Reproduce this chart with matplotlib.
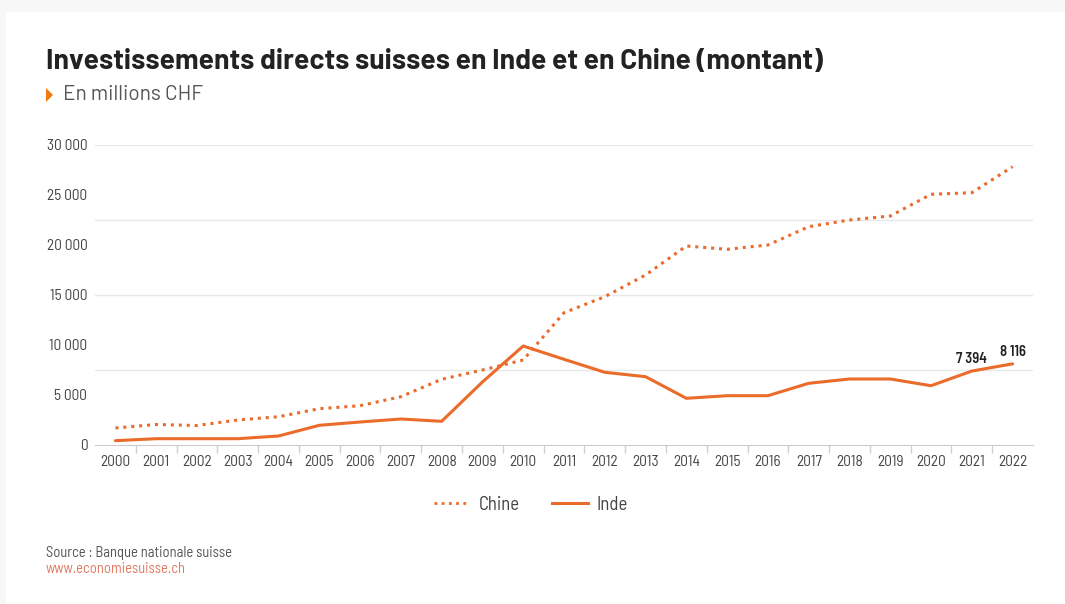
import matplotlib
matplotlib.use("Agg")
import matplotlib.pyplot as plt
from matplotlib.lines import Line2D
from matplotlib.patches import Polygon, Rectangle
from matplotlib.ticker import FixedLocator, FuncFormatter

years = [str(y) for y in range(2000, 2023)]
chine = [1700, 2050, 1950, 2500, 2830, 3630, 3930, 4830, 6570, 7500, 8500,
         13230, 14830, 17000, 19900, 19570, 20000, 21830, 22500, 22900, 25070, 25230, 27830]
inde = [430, 630, 630, 630, 900, 1970, 2300, 2600, 2370, 6300, 9900,
        8570, 7270, 6830, 4670, 4930, 4930, 6170, 6600, 6600, 5930, 7394, 8116]
y_ticks = [0, 5000, 10000, 15000, 20000, 25000, 30000]
grid_vals = [0, 7500, 15000, 22500, 30000]
labels_pts = {21: "7 394", 22: "8 116"}

FONT = "Barlow Semi Condensed"
WIDE = "Barlow"
plt.rcParams['font.family'] = [FONT, 'DejaVu Sans']

ORANGE = '#EA6B2A'
GREY = '#555555'

W, H = 1065, 604
fig = plt.figure(figsize=(W / 100, H / 100), dpi=100)
fig.patch.set_facecolor('#f7f7f7')
fig.add_artist(Rectangle((6 / W, 0), 1 - 6 / W, 1 - 12 / H, transform=fig.transFigure,
                         facecolor='white', edgecolor='none', zorder=0))

ax = fig.add_axes([95 / W, 1 - 445 / H, (1033 - 95) / W, 300 / H])
ax.set_facecolor('none')
x = list(range(len(years)))
ax.plot(x, chine, color=ORANGE, lw=2.2, linestyle=(0, (1, 1.6)), label='Chine', zorder=3)
ax.plot(x, inde, color=ORANGE, lw=2.2, solid_capstyle='round', label='Inde', zorder=3)

ax.set_xlim(-0.5, len(years) - 0.5)
ax.set_ylim(0, 30000)
ax.set_yticks(y_ticks)
ax.yaxis.set_major_formatter(FuncFormatter(lambda v, p: f"{int(v):,}".replace(",", " ")))
ax.set_xticks(x)
ax.set_xticklabels(years)
ax.xaxis.set_minor_locator(FixedLocator([i + 0.5 for i in x[:-1]]))
ax.tick_params(axis='x', which='major', length=0, pad=7, labelsize=11, labelcolor='#444444')
ax.tick_params(axis='x', which='minor', length=6, color='#d0d0d0', width=1)
ax.tick_params(axis='y', length=0, pad=5.5, labelsize=11, labelcolor='#444444')
for s in ['top', 'right', 'left']:
    ax.spines[s].set_visible(False)
ax.spines['bottom'].set_color('#cccccc')
for g in grid_vals[1:]:
    ax.axhline(g, color='#e8e8e8', lw=1, zorder=1)

for i, t in labels_pts.items():
    ax.annotate(t, (i, inde[i]), xytext=(0, 3.5), textcoords='offset points',
                ha='center', va='bottom', fontsize=10.5, fontweight='semibold', color='#222222')

leg = fig.legend(handles=[Line2D([], [], color=ORANGE, lw=2.0, linestyle=(0, (1, 1.6))),
                          Line2D([], [], color=ORANGE, lw=2.2)],
                 labels=['Chine', 'Inde'], loc='center', bbox_to_anchor=(531 / W, 1 - 505 / H),
                 ncol=2, frameon=False, fontsize=13.5, handlelength=1.92, columnspacing=1.76,
                 handletextpad=0.43)
for t in leg.get_texts():
    t.set_color('#444444')

fig.text(46 / W, 1 - 61 / H, "Investissements directs suisses en Inde et en Chine (montant)",
         fontsize=20.3, fontweight='bold', color='#222222', va='center', ha='left',
         family=[WIDE, 'DejaVu Sans'])
fig.add_artist(Polygon([(46 / W, 1 - 88 / H), (46 / W, 1 - 102 / H), (53 / W, 1 - 95 / H)],
                       closed=True, transform=fig.transFigure, facecolor='#EE7A10', edgecolor='none'))
fig.text(63 / W, 1 - 95 / H, "En millions CHF", fontsize=15, color=GREY, va='center', ha='left',
         family=[WIDE, 'DejaVu Sans'])
fig.text(46 / W, 1 - 553 / H, "Source : Banque nationale suisse", fontsize=10.5, color=GREY,
         va='center', ha='left')
fig.text(46 / W, 1 - 569 / H, "www.economiesuisse.ch", fontsize=10.5, color='#E07A62',
         va='center', ha='left')

fig.savefig('out.png', dpi=100, facecolor=fig.get_facecolor())
